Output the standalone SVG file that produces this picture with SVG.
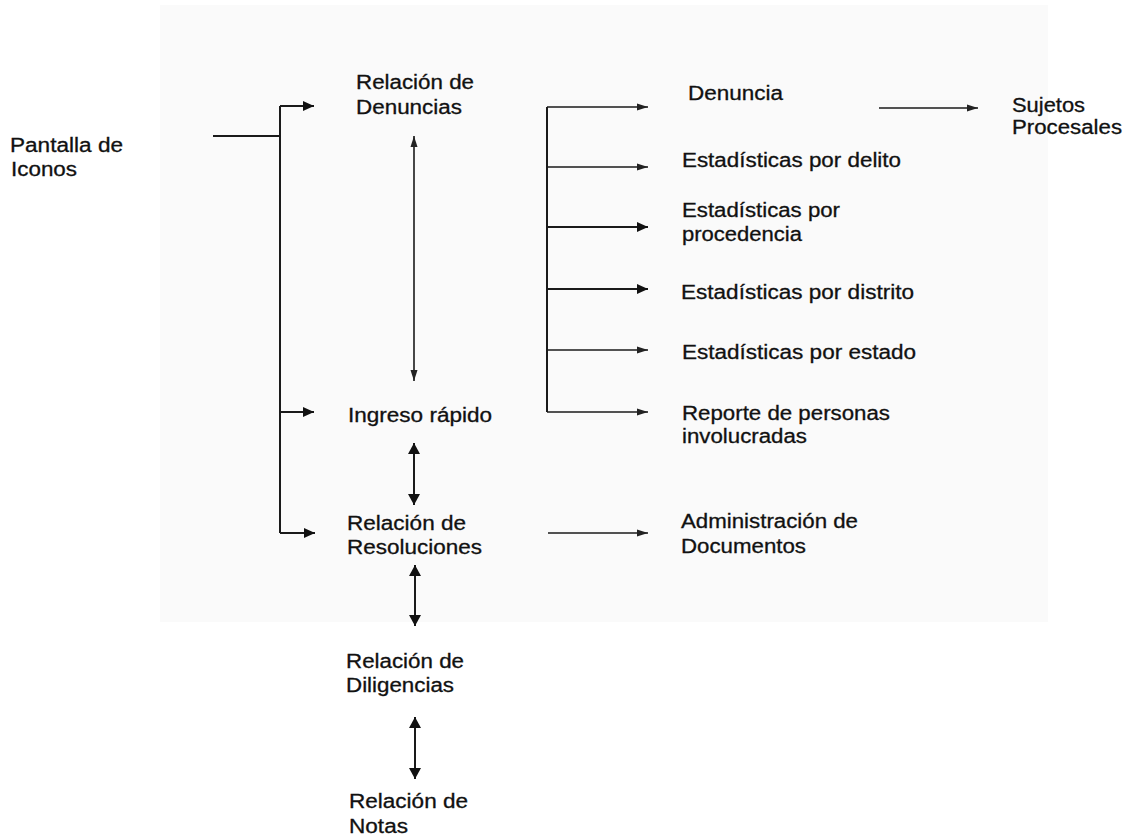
<svg xmlns="http://www.w3.org/2000/svg" width="1126" height="839" viewBox="0 0 1126 839">
<style>
text{font-family:"Liberation Sans",Arial,sans-serif;font-size:20px;fill:#111;stroke:#111;stroke-width:0.3}
.c{stroke:#1a1a1a;stroke-width:2;fill:none}
.t{stroke-width:1.6}
</style>
<defs>
<marker id="ab" markerUnits="userSpaceOnUse" markerWidth="12" markerHeight="11" refX="11" refY="5.5" orient="auto-start-reverse"><path d="M0,0.5 L11,5.5 L0,10.5 z" fill="#111"/></marker>
<marker id="ad" markerUnits="userSpaceOnUse" markerWidth="12" markerHeight="13" refX="11" refY="6.5" orient="auto-start-reverse"><path d="M0,0.5 L11,6.5 L0,12.5 z" fill="#111"/></marker>
<marker id="at" markerUnits="userSpaceOnUse" markerWidth="12" markerHeight="9" refX="11" refY="4.5" orient="auto-start-reverse"><path d="M0,1 L11,4.5 L0,8 z" fill="#222"/></marker>
</defs>
<rect x="160" y="5" width="888" height="617" fill="#fafafa"/>
<g id="connectors">
<path class="c" d="M213,136 H280"/>
<path class="c" d="M280,106 V533"/>
<path class="c" d="M280,106 H314" marker-end="url(#ab)"/>
<path class="c" d="M280,412 H314" marker-end="url(#ab)"/>
<path class="c" d="M280,533 H315" marker-end="url(#ab)"/>
<path class="c t" d="M414,136 V381" marker-start="url(#at)" marker-end="url(#at)"/>
<path class="c" d="M414,443 V505" marker-start="url(#ad)" marker-end="url(#ad)"/>
<path class="c" d="M415,565 V626" marker-start="url(#ad)" marker-end="url(#ad)"/>
<path class="c" d="M415,717 V779" marker-start="url(#ad)" marker-end="url(#ad)"/>
<path class="c" d="M547,107 V412"/>
<path class="c t" d="M547,107 H648" marker-end="url(#at)"/>
<path class="c t" d="M547,167 H648" marker-end="url(#at)"/>
<path class="c" d="M547,227 H648" marker-end="url(#ab)"/>
<path class="c" d="M547,289 H648" marker-end="url(#ab)"/>
<path class="c t" d="M547,350 H648" marker-end="url(#at)"/>
<path class="c t" d="M547,412 H648" marker-end="url(#at)"/>
<path class="c t" d="M879,108 H978" marker-end="url(#at)"/>
<path class="c t" d="M548,533 H648" marker-end="url(#at)"/>
</g>
<g id="pantalla"><text x="10" y="152" textLength="113" lengthAdjust="spacingAndGlyphs">Pantalla de</text><text x="11" y="176" textLength="66" lengthAdjust="spacingAndGlyphs">Iconos</text></g>
<g id="rel-denuncias"><text x="356" y="89" textLength="118" lengthAdjust="spacingAndGlyphs">Relación de</text><text x="356" y="114" textLength="106" lengthAdjust="spacingAndGlyphs">Denuncias</text></g>
<g id="denuncia"><text x="688" y="100" textLength="95" lengthAdjust="spacingAndGlyphs">Denuncia</text></g>
<g id="sujetos"><text x="1012" y="112" textLength="73" lengthAdjust="spacingAndGlyphs">Sujetos</text><text x="1012" y="134" textLength="110" lengthAdjust="spacingAndGlyphs">Procesales</text></g>
<g id="est-delito"><text x="682" y="167" textLength="219" lengthAdjust="spacingAndGlyphs">Estadísticas por delito</text></g>
<g id="est-procedencia"><text x="682" y="217" textLength="158" lengthAdjust="spacingAndGlyphs">Estadísticas por</text><text x="682" y="241" textLength="120" lengthAdjust="spacingAndGlyphs">procedencia</text></g>
<g id="est-distrito"><text x="681" y="299" textLength="233" lengthAdjust="spacingAndGlyphs">Estadísticas por distrito</text></g>
<g id="est-estado"><text x="682" y="359" textLength="234" lengthAdjust="spacingAndGlyphs">Estadísticas por estado</text></g>
<g id="reporte"><text x="682" y="420" textLength="208" lengthAdjust="spacingAndGlyphs">Reporte de personas</text><text x="682" y="443" textLength="125" lengthAdjust="spacingAndGlyphs">involucradas</text></g>
<g id="ingreso"><text x="348" y="422" textLength="144" lengthAdjust="spacingAndGlyphs">Ingreso rápido</text></g>
<g id="rel-resoluciones"><text x="347" y="530" textLength="119" lengthAdjust="spacingAndGlyphs">Relación de</text><text x="347" y="554" textLength="135" lengthAdjust="spacingAndGlyphs">Resoluciones</text></g>
<g id="administracion"><text x="681" y="528" textLength="177" lengthAdjust="spacingAndGlyphs">Administración de</text><text x="681" y="553" textLength="125" lengthAdjust="spacingAndGlyphs">Documentos</text></g>
<g id="rel-diligencias"><text x="346" y="668" textLength="118" lengthAdjust="spacingAndGlyphs">Relación de</text><text x="346" y="692" textLength="108" lengthAdjust="spacingAndGlyphs">Diligencias</text></g>
<g id="rel-notas"><text x="349" y="808" textLength="119" lengthAdjust="spacingAndGlyphs">Relación de</text><text x="349" y="833" textLength="59" lengthAdjust="spacingAndGlyphs">Notas</text></g>
</svg>
